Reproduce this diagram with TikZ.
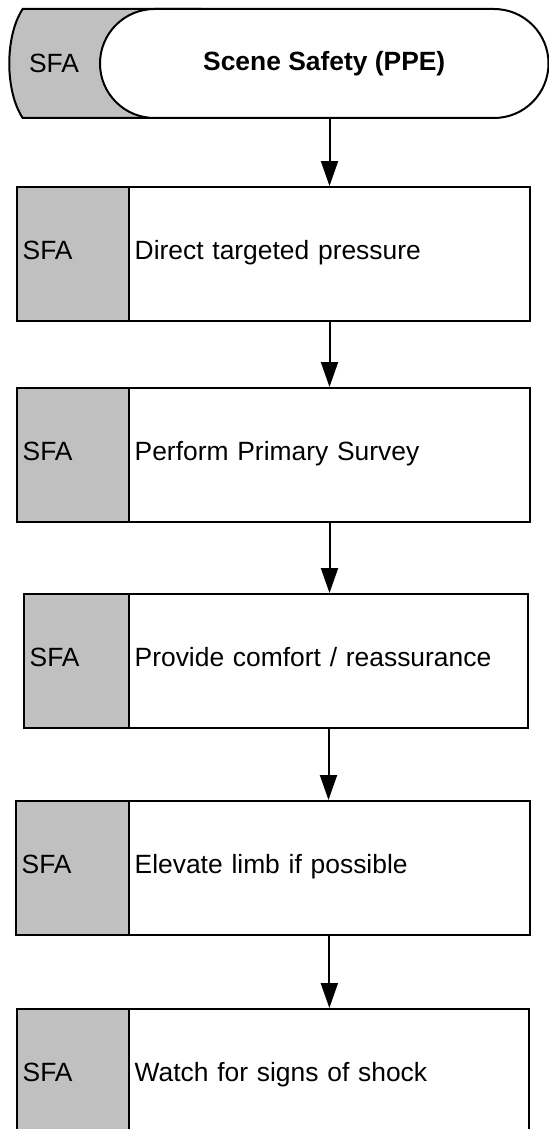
\documentclass[tikz,border=0pt]{standalone}
\usepackage{fontspec}
\setmainfont{Liberation Sans}
\usetikzlibrary{arrows.meta,shapes.misc}
\definecolor{sfagray}{HTML}{C0C0C0}
\begin{document}
\begin{tikzpicture}[x=0.5pt,y=-0.5pt,
  every node/.style={font=\fontsize{13.2pt}{15.8pt}\selectfont},
  line/.style={draw=black, line width=1pt},
  celltext/.style={text height=0.72em, text depth=0.22em},
  sfacell/.style={line, fill=sfagray, rectangle, anchor=north west, celltext,
    minimum height=67pt, inner xsep=3pt, inner ysep=0pt, align=left},
  stepbox/.style={line, fill=white, rectangle, anchor=north west, celltext,
    minimum height=67pt, inner xsep=3pt, inner ysep=0pt, align=left},
  flow/.style={line width=1pt, -{Triangle[length=12.5pt,width=8.5pt]}}
]
\useasboundingbox (0,0) rectangle (549,1129);
\clip (0,0) rectangle (549,1129);

% start terminator: grey tab behind a white stadium
\path[line, fill=sfagray] (200,9) -- (22.7,9)
  .. controls (4.8,36) and (4.8,91) .. (22.7,118) -- (200,118) -- cycle;
\node (tsfa) at (54,63.5) {SFA};
\node[line, fill=white, rounded rectangle, minimum width=224.25pt,
  minimum height=54.5pt, inner sep=0pt,
  font=\fontsize{13.2pt}{15.8pt}\selectfont\bfseries] (term) at (324.25,63.5)
  {Scene Safety (PPE)};

% process steps
\node[sfacell, text width=50pt] (s1) at (15.7,186) {SFA};
\node[stepbox, text width=194.8pt] (b1) at (127.7,186) {Direct targeted pressure};

\node[sfacell, text width=50pt] (s2) at (15.7,387) {SFA};
\node[stepbox, text width=194.8pt] (b2) at (127.7,387) {Perform Primary Survey};

\node[sfacell, text width=46.5pt] (s3) at (22.7,593) {SFA};
\node[stepbox, text width=193.8pt] (b3) at (127.7,593) {Provide comfort / reassurance};

\node[sfacell, text width=50.5pt] (s4) at (14.7,800) {SFA};
\node[stepbox, text width=194.65pt] (b4) at (127.7,800) {Elevate limb if possible};

\node[sfacell, text width=50pt] (s5) at (15.7,1008) {SFA};
\node[stepbox, text width=194.15pt] (b5) at (127.7,1008) {Watch for signs of shock};

% connectors
\draw[flow] (term.south -| b1.north) -- (b1.north);
\draw[flow] (b1.south) -- (b2.north);
\draw[flow] (b2.south) -- (b2.south |- b3.north);
\draw[flow] (b3.south) -- (b3.south |- b4.north);
\draw[flow] (b4.south) -- (b4.south |- b5.north);
\end{tikzpicture}
\end{document}
